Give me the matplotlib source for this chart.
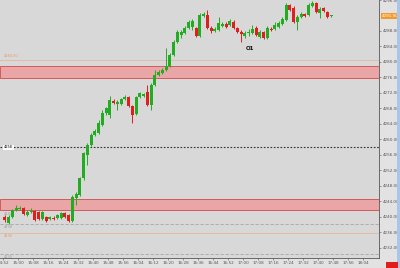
import matplotlib.pyplot as plt
import matplotlib.transforms as mtransforms
from matplotlib.patches import Rectangle

# 2-minute candles, first bar just after 14:52
opens = [4240.0, 4238.5, 4240.0, 4241.8, 4242.0, 4242.3, 4240.5, 4241.3, 4241.5, 4241.3,
         4239.5, 4240.0, 4239.5, 4239.7, 4239.7, 4239.7, 4241.0, 4240.5, 4239.0, 4244.9,
         4245.7, 4250.1, 4256.0, 4258.6, 4261.2, 4261.7, 4263.7, 4266.8, 4266.3, 4269.9,
         4269.2, 4269.2, 4270.4, 4271.0, 4268.6, 4266.6, 4271.0, 4271.2, 4272.3, 4268.9,
         4274.1, 4276.6, 4277.2, 4277.9, 4279.0, 4281.8, 4285.2, 4287.0, 4287.5, 4288.8,
         4289.0, 4288.8, 4286.7, 4291.9, 4292.1, 4288.8, 4288.0, 4288.3, 4289.3, 4289.8,
         4289.5, 4290.3, 4288.8, 4287.7, 4286.7, 4287.5, 4287.5, 4288.8, 4286.5, 4287.7,
         4286.2, 4288.5, 4288.5, 4289.0, 4289.8, 4290.8, 4294.7, 4293.9, 4290.3, 4291.6,
         4292.4, 4292.1, 4294.5, 4295.2, 4292.6, 4293.9, 4292.9, 4291.9]
highs = [4240.5, 4240.5, 4242.1, 4243.1, 4242.8, 4242.6, 4241.8, 4242.3, 4241.8, 4241.5,
         4241.5, 4240.2, 4240.2, 4240.2, 4240.8, 4241.3, 4241.3, 4240.8, 4245.7, 4246.5,
         4250.3, 4256.8, 4259.1, 4261.7, 4262.7, 4265.0, 4267.6, 4268.4, 4271.2, 4270.4,
         4270.2, 4270.7, 4271.5, 4271.2, 4268.9, 4271.2, 4272.3, 4272.0, 4274.1, 4274.6,
         4277.9, 4277.9, 4278.5, 4283.6, 4282.3, 4285.7, 4288.3, 4288.3, 4289.3, 4290.8,
         4291.1, 4289.0, 4292.6, 4292.9, 4293.4, 4289.3, 4289.0, 4291.6, 4290.3, 4290.3,
         4291.1, 4290.8, 4289.0, 4288.3, 4288.0, 4288.5, 4289.5, 4289.3, 4288.3, 4288.0,
         4289.3, 4289.0, 4290.3, 4290.6, 4291.6, 4295.2, 4295.0, 4294.5, 4292.1, 4292.9,
         4292.6, 4295.2, 4295.7, 4295.5, 4294.2, 4294.2, 4293.2, 4292.1]
lows = [4238.7, 4238.2, 4239.7, 4241.5, 4241.8, 4240.5, 4240.2, 4241.0, 4239.0, 4239.2,
        4239.2, 4238.7, 4239.2, 4239.2, 4239.5, 4239.5, 4239.7, 4238.7, 4238.7, 4243.1,
        4245.4, 4249.5, 4253.4, 4258.3, 4260.9, 4261.4, 4263.5, 4266.3, 4265.5, 4269.2,
        4267.6, 4268.9, 4270.2, 4268.4, 4264.3, 4266.3, 4270.7, 4271.0, 4268.6, 4267.6,
        4273.8, 4276.4, 4276.9, 4277.7, 4278.7, 4281.5, 4284.9, 4286.2, 4287.2, 4288.5,
        4288.3, 4286.5, 4286.5, 4291.6, 4288.5, 4287.5, 4287.7, 4288.0, 4289.0, 4288.8,
        4289.3, 4288.5, 4287.5, 4285.2, 4286.2, 4286.7, 4287.2, 4286.7, 4286.2, 4285.9,
        4285.9, 4288.0, 4288.3, 4288.8, 4289.5, 4290.6, 4293.2, 4290.1, 4288.3, 4291.4,
        4291.6, 4291.9, 4294.2, 4292.6, 4291.4, 4292.9, 4291.4, 4291.6]
closes = [4239.2, 4240.0, 4241.8, 4242.3, 4242.3, 4240.8, 4241.3, 4241.5, 4239.2, 4239.5,
          4241.3, 4239.0, 4240.0, 4239.5, 4240.5, 4241.0, 4240.0, 4239.0, 4245.2, 4245.9,
          4250.1, 4256.5, 4258.6, 4261.2, 4262.2, 4264.3, 4266.8, 4268.1, 4270.2, 4269.4,
          4269.7, 4270.4, 4271.0, 4268.6, 4266.3, 4271.0, 4272.0, 4271.7, 4268.9, 4274.1,
          4276.6, 4277.4, 4277.9, 4279.0, 4281.8, 4285.2, 4287.7, 4287.7, 4288.8, 4290.3,
          4290.6, 4286.7, 4292.1, 4292.4, 4288.8, 4288.0, 4288.5, 4290.1, 4289.8, 4289.0,
          4290.6, 4288.8, 4287.7, 4287.2, 4287.5, 4287.7, 4288.5, 4287.0, 4287.7, 4286.2,
          4288.8, 4288.3, 4289.5, 4290.1, 4291.1, 4294.7, 4293.4, 4290.3, 4291.6, 4292.4,
          4291.9, 4294.7, 4295.2, 4292.9, 4293.7, 4293.2, 4291.6, 4291.9]

time_labels = ["14:52", "15:00", "15:08", "15:16", "15:24", "15:32", "15:40", "15:48",
               "15:56", "16:04", "16:12", "16:20", "16:28", "16:36", "16:44", "16:52",
               "17:00", "17:08", "17:16", "17:24", "17:32", "17:40", "17:48", "17:56",
               "18:04"]
price_ticks = [4232, 4236, 4240, 4244, 4248, 4252, 4256, 4260, 4264, 4268, 4272,
               4276, 4280, 4284, 4288, 4296]

# levels
zone_high = (4275.9, 4279.0)
zone_low = (4241.8, 4244.6)
pivot = 4258.0
tan_levels = [4280.5, 4235.9]
gray_levels = [4238.2, 4230.5]
last_price = 4291.9

fig = plt.figure(figsize=(4.0, 2.68), dpi=100)
fig.set_facecolor('#e2e2e2')
ax = fig.add_axes([0, 10 / 268, 379 / 400, 258 / 268])
ax.set_facecolor('#d8d8d8')

x = [1 + 2 * i for i in range(len(opens))]
up = '#22ac22'
down = '#e01e1e'
for xi, o, h, l, c in zip(x, opens, highs, lows, closes):
    col = up if c >= o else down
    ax.vlines(xi, l, h, color=col, linewidth=0.7, zorder=3)
    height = max(abs(c - o), 0.15)
    ax.bar(xi, height, bottom=min(o, c), width=1.55, color=col, linewidth=0, zorder=4)

# zones and lines
for lo, hi in [zone_high, zone_low]:
    ax.axhspan(lo, hi, facecolor='#eaa6a6', edgecolor='#d25a5a', linewidth=0.7, zorder=1)
ax.axhline(pivot, color='#333333', linestyle=(0, (1.5, 1.5)), linewidth=0.8, zorder=2)
for lv in tan_levels:
    ax.axhline(lv, color='#e7b79a', linewidth=0.6, zorder=1)
for lv in gray_levels:
    ax.axhline(lv, color='#a8a8a8', linestyle=(0, (4, 2)), linewidth=0.6, zorder=1)

# small level labels on the left
ax.text(0.5, 4280.9, '4280.50', fontsize=2.5, color='#e59a6a', va='bottom')
ax.text(0.5, pivot, '4258', fontsize=2.5, color='black', va='center',
        bbox=dict(facecolor='white', edgecolor='none', pad=0.5))
ax.text(0.5, 4241.3, '4242', fontsize=2.5, color='#a0a0a0', va='top')
ax.text(0.5, 4237.8, '4238', fontsize=2.5, color='#a0a0a0', va='top')
ax.text(0.5, 4235.5, '4236', fontsize=2.5, color='#e59a6a', va='top')
ax.text(0.5, 4230.1, '4230', fontsize=2.5, color='#a0a0a0', va='top')

ax.text(131.7, 4283.4, 'O1', fontsize=4, fontweight='bold', color='#111111',
        ha='center', va='center')

ax.set_xlim(-1.6, 200.5)
ax.set_ylim(4229.4, 4296.0)
ax.set_xticks([8 * k for k in range(len(time_labels))])
ax.set_xticklabels(time_labels)
ax.set_yticks(price_ticks)
ax.set_yticklabels(['%.2f' % p for p in price_ticks])
ax.yaxis.tick_right()
ax.tick_params(axis='both', labelsize=3, colors='#555555', length=1.5, width=0.4, pad=1)
for side in ['top', 'left']:
    ax.spines[side].set_visible(False)
for side in ['right', 'bottom']:
    ax.spines[side].set_color('#555555')
    ax.spines[side].set_linewidth(0.6)

# current price tag
trans = mtransforms.blended_transform_factory(ax.transAxes, ax.transData)
ax.text(1.008, last_price, '%.2f' % last_price, transform=trans, fontsize=3,
        color='white', va='center', ha='left', zorder=10, clip_on=False,
        bbox=dict(facecolor='#f39a2c', edgecolor='none', pad=1.0))

fig.patches.append(Rectangle((397 / 400, 0), 3 / 400, 1, transform=fig.transFigure,
                             facecolor='#a9c6e8', edgecolor='none'))
fig.patches.append(Rectangle((386 / 400, 0), 12 / 400, 6 / 268, transform=fig.transFigure,
                             facecolor='#e01e1e', edgecolor='none'))

fig.savefig('out.png', dpi=100, facecolor=fig.get_facecolor())
